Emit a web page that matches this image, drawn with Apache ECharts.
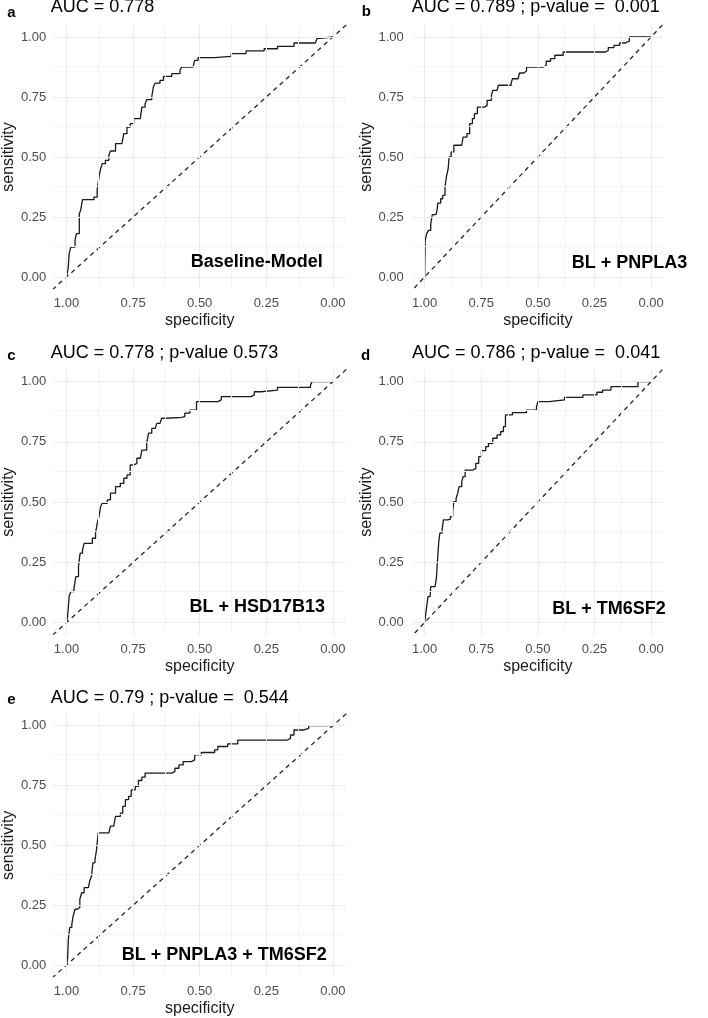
<!DOCTYPE html>
<html>
<head>
<meta charset="utf-8">
<script src="https://cdn.jsdelivr.net/npm/echarts@6/dist/echarts.min.js"></script>
<style>
html,body{margin:0;padding:0;background:#fff;}
#chart{width:708px;height:1018px;}
</style>
</head>
<body>
<div id="chart"></div>
<script>
// ---- data ----
const panelTags = ['a', 'b', 'c', 'd', 'e'];
const panelTitles = [
  'AUC = 0.778',
  'AUC = 0.789 ; p-value =  0.001',
  'AUC = 0.778 ; p-value 0.573',
  'AUC = 0.786 ; p-value =  0.041',
  'AUC = 0.79 ; p-value =  0.544'
];
const modelLabels = ['Baseline-Model', 'BL + PNPLA3', 'BL + HSD17B13', 'BL + TM6SF2', 'BL + PNPLA3 + TM6SF2'];
const tickValues = [0, 0.25, 0.5, 0.75, 1];
const minorValues = [0.125, 0.375, 0.625, 0.875];

const specA = [1.000,0.994,0.990,0.984,0.968,0.963,0.952,0.947,0.940,0.897,0.885,0.878,0.872,0.866,0.854,0.841,0.835,0.816,0.792,0.785,0.773,0.761,0.748,0.723,0.717,0.705,0.699,0.680,0.674,0.667,0.649,0.636,0.605,0.574,0.568,0.525,0.519,0.506,0.444,0.382,0.326,0.258,0.208,0.146,0.066,0.060,0.053,0.000];
const sensA = [0.000,0.035,0.097,0.125,0.153,0.181,0.264,0.278,0.322,0.333,0.361,0.417,0.451,0.472,0.486,0.507,0.525,0.556,0.558,0.597,0.625,0.639,0.660,0.667,0.708,0.722,0.739,0.750,0.792,0.808,0.819,0.836,0.847,0.861,0.875,0.882,0.903,0.914,0.919,0.931,0.942,0.951,0.961,0.975,0.979,0.993,1.000,1.000];

const specB = [1.000,0.9975,0.991,0.983,0.973,0.966,0.950,0.945,0.942,0.929,0.920,0.910,0.904,0.896,0.892,0.883,0.871,0.836,0.830,0.813,0.801,0.789,0.780,0.767,0.736,0.724,0.705,0.699,0.680,0.674,0.618,0.612,0.587,0.581,0.562,0.550,0.475,0.463,0.444,0.425,0.388,0.201,0.189,0.164,0.139,0.114,0.096,0.000];
const sensB = [0.000,0.153,0.181,0.194,0.222,0.260,0.264,0.278,0.308,0.326,0.340,0.375,0.417,0.451,0.500,0.521,0.549,0.556,0.583,0.597,0.639,0.660,0.681,0.708,0.715,0.736,0.757,0.778,0.785,0.799,0.808,0.826,0.833,0.850,0.858,0.875,0.882,0.899,0.910,0.924,0.9375,0.944,0.956,0.965,0.975,0.983,1.000,1.000];

const specC = [1.000,0.996,0.990,0.984,0.972,0.965,0.955,0.949,0.940,0.934,0.903,0.891,0.885,0.878,0.872,0.866,0.847,0.835,0.816,0.798,0.785,0.773,0.761,0.748,0.736,0.723,0.717,0.699,0.692,0.680,0.667,0.661,0.649,0.643,0.624,0.568,0.556,0.537,0.512,0.432,0.419,0.308,0.295,0.270,0.208,0.084,0.078,0.000];
const sensC = [0.000,0.025,0.108,0.129,0.142,0.191,0.232,0.288,0.302,0.329,0.350,0.371,0.412,0.440,0.481,0.495,0.509,0.537,0.564,0.578,0.599,0.613,0.654,0.661,0.682,0.689,0.716,0.744,0.786,0.806,0.813,0.827,0.834,0.848,0.852,0.855,0.869,0.882,0.917,0.924,0.938,0.945,0.958,0.965,0.976,0.986,1.000,1.000];

const specD = [1.000,0.9975,0.991,0.985,0.976,0.973,0.954,0.948,0.944,0.938,0.933,0.923,0.917,0.898,0.886,0.876,0.871,0.861,0.854,0.848,0.836,0.830,0.821,0.786,0.774,0.761,0.749,0.730,0.718,0.699,0.680,0.664,0.652,0.643,0.612,0.550,0.506,0.500,0.450,0.382,0.301,0.239,0.214,0.177,0.058,0.000];
const sensD = [0.000,0.018,0.066,0.108,0.115,0.149,0.156,0.184,0.246,0.329,0.371,0.385,0.426,0.429,0.440,0.461,0.502,0.516,0.537,0.564,0.585,0.606,0.633,0.640,0.661,0.689,0.714,0.730,0.744,0.765,0.779,0.793,0.813,0.862,0.871,0.882,0.896,0.917,0.924,0.935,0.945,0.956,0.965,0.979,1.000,1.000];

const specE = [1.000,0.996,0.993,0.988,0.980,0.975,0.968,0.959,0.950,0.943,0.934,0.918,0.913,0.906,0.901,0.893,0.888,0.881,0.841,0.835,0.823,0.816,0.798,0.789,0.779,0.767,0.757,0.742,0.730,0.717,0.705,0.605,0.593,0.578,0.562,0.531,0.519,0.494,0.444,0.432,0.395,0.357,0.171,0.159,0.146,0.109,0.091,0.000];
const sensE = [0.000,0.025,0.108,0.157,0.171,0.205,0.233,0.240,0.275,0.302,0.323,0.330,0.351,0.372,0.427,0.441,0.476,0.552,0.559,0.580,0.587,0.621,0.635,0.663,0.691,0.705,0.732,0.746,0.771,0.785,0.802,0.809,0.822,0.836,0.850,0.857,0.878,0.888,0.899,0.913,0.924,0.940,0.947,0.961,0.982,0.989,1.000,1.000];

const specs = [specA, specB, specC, specD, specE];
const senss = [sensA, sensB, sensC, sensD, sensE];
const axisExtent = [-0.05, 1.05];

// ---- layout (pixels) ----
const gridPos = [
  {left: 50.6, top: 25, width: 295.6, height: 264},
  {left: 413.3, top: 25, width: 294.5, height: 264},
  {left: 50.6, top: 369.6, width: 295.6, height: 265},
  {left: 413.3, top: 369.6, width: 294.5, height: 265},
  {left: 50.6, top: 713.7, width: 295.6, height: 264.3}
];
const yLabelMargin = [7, 9.5, 7, 9.5, 7];
const tagPos = [[7.3, 12.5], [361.7, 12], [7.3, 356], [361, 356], [7.3, 700]];
const titlePos = [[50.7, 7], [411.7, 7], [50.7, 353.5], [412, 353.5], [50.7, 697.7]];
const modelPos = [[322.7, 262], [687.3, 262.7], [325, 607], [665.7, 608.7], [326.7, 955.4]];

const FONT = "'Liberation Sans', Arial, Helvetica, sans-serif";

function fmt(v) {
  const isTick = tickValues.some(t => Math.abs(t - v) < 1e-6);
  return isTick ? v.toFixed(2) : '';
}

const grids = [], xAxes = [], yAxes = [], series = [], graphics = [];

for (let i = 0; i < 5; i++) {
  grids.push(Object.assign({containLabel: false}, gridPos[i]));
  xAxes.push({
    type: 'value', gridIndex: i, min: axisExtent[0], max: axisExtent[1], interval: 0.05,
    inverse: true,
    name: 'specificity', nameLocation: 'middle', nameGap: 24,
    nameTextStyle: {fontFamily: FONT, fontSize: 16, color: '#1a1a1a'},
    axisLine: {show: false, onZero: false}, axisTick: {show: false},
    splitLine: {show: false},
    axisLabel: {margin: 8, fontFamily: FONT, fontSize: 13, color: '#4d4d4d', formatter: fmt}
  });
  yAxes.push({
    type: 'value', gridIndex: i, min: axisExtent[0], max: axisExtent[1], interval: 0.05,
    name: 'sensitivity', nameLocation: 'middle', nameGap: 33,
    nameTextStyle: {fontFamily: FONT, fontSize: 16, color: '#1a1a1a'},
    axisLine: {show: false, onZero: false}, axisTick: {show: false},
    splitLine: {show: false},
    axisLabel: {margin: yLabelMargin[i], fontFamily: FONT, fontSize: 13, color: '#4d4d4d', formatter: fmt}
  });

  // grid lines (ggplot theme_minimal style)
  const ml = [];
  minorValues.forEach(v => {
    ml.push({xAxis: v, lineStyle: {color: '#f3f3f3', width: 1, type: 'solid'}});
    ml.push({yAxis: v, lineStyle: {color: '#f3f3f3', width: 1, type: 'solid'}});
  });
  tickValues.forEach(v => {
    ml.push({xAxis: v, lineStyle: {color: '#ebebeb', width: 1, type: 'solid'}});
    ml.push({yAxis: v, lineStyle: {color: '#ebebeb', width: 1, type: 'solid'}});
  });
  series.push({
    type: 'line', xAxisIndex: i, yAxisIndex: i, data: [], z: 0, silent: true,
    markLine: {silent: true, symbol: ['none', 'none'], label: {show: false}, animation: false, data: ml}
  });

  // chance diagonal
  series.push({
    type: 'line', xAxisIndex: i, yAxisIndex: i, z: 2, silent: true,
    data: axisExtent.map(x => [x, 1 - x]),
    showSymbol: false,
    lineStyle: {color: '#262626', width: 1.3, type: [4.5, 4]}
  });

  // ROC curve
  series.push({
    type: 'line', xAxisIndex: i, yAxisIndex: i, z: 3, silent: true,
    step: 'end',
    data: specs[i].map((s, k) => [s, senss[i][k]]),
    showSymbol: false,
    lineStyle: {color: '#1a1a1a', width: 1.3}
  });

  graphics.push({
    type: 'text', x: tagPos[i][0], y: tagPos[i][1],
    style: {text: panelTags[i], font: 'bold 15px ' + FONT, fill: '#000', align: 'left', verticalAlign: 'middle'}
  });
  graphics.push({
    type: 'text', x: titlePos[i][0], y: titlePos[i][1],
    style: {text: panelTitles[i], font: '18px ' + FONT, fill: '#000', align: 'left', verticalAlign: 'middle'}
  });
  graphics.push({
    type: 'text', x: modelPos[i][0], y: modelPos[i][1], z: 10,
    style: {text: modelLabels[i], font: 'bold 18px ' + FONT, fill: '#000', align: 'right', verticalAlign: 'middle'}
  });
}

const chart = echarts.init(document.getElementById('chart'), null, {renderer: 'canvas'});
chart.setOption({
  animation: false,
  backgroundColor: '#ffffff',
  grid: grids,
  xAxis: xAxes,
  yAxis: yAxes,
  series: series,
  graphic: {elements: graphics}
});
</script>
</body>
</html>
